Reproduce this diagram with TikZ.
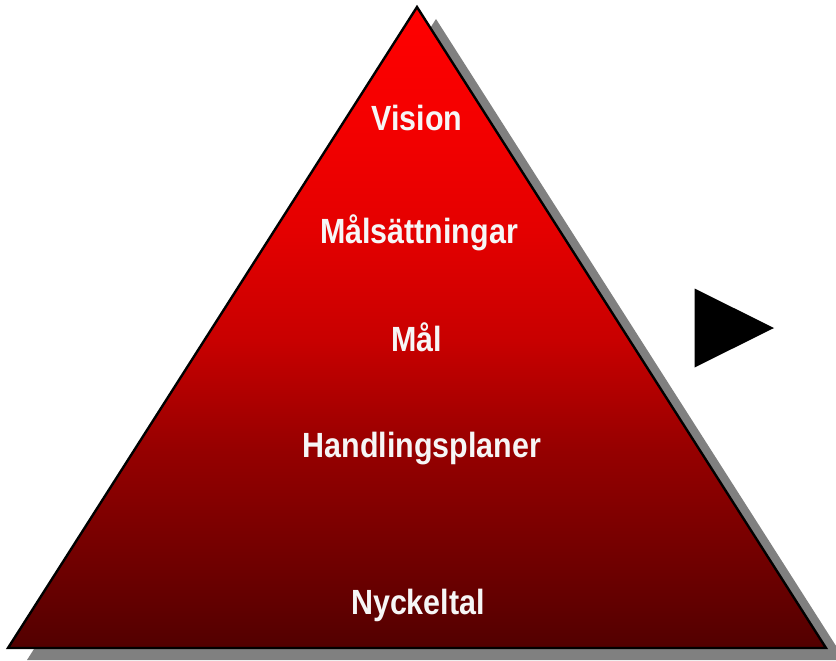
\documentclass[tikz,border=0pt]{standalone}
\usepackage{fontspec}
\setmainfont{Liberation Sans}[FakeStretch=0.87]
\usetikzlibrary{shadings}
\definecolor{pyrA}{RGB}{255,0,0}
\definecolor{pyrB}{RGB}{245,0,0}
\definecolor{pyrC}{RGB}{228,0,0}
\definecolor{pyrD}{RGB}{200,0,0}
\definecolor{pyrE}{RGB}{150,0,0}
\definecolor{pyrF}{RGB}{98,0,0}
\definecolor{pyrG}{RGB}{82,0,0}
\definecolor{labelwhite}{RGB}{246,246,246}
\definecolor{shadowgray}{RGB}{128,128,128}
\pgfdeclareverticalshading{pyrshade}{100bp}{color(0bp)=(pyrG); color(25bp)=(pyrG); color(28.5bp)=(pyrF); color(40.5bp)=(pyrE); color(49bp)=(pyrD); color(57.5bp)=(pyrC); color(66.5bp)=(pyrB); color(75bp)=(pyrA); color(100bp)=(pyrA)}
\tikzset{
  lvl/.style={anchor=base, text=labelwhite, font=\fontsize{35}{40}\selectfont\bfseries, inner sep=0pt},
  pyr/.style={draw=black, line width=2.4pt, line join=miter, shading=pyrshade},
  shadowtri/.style={fill=shadowgray, draw=none},
  arrowtri/.style={fill=black, draw=none}
}
\begin{document}
\begin{tikzpicture}[x=1pt, y=-1pt]
\useasboundingbox (0,0) rectangle (836,661);
\coordinate (apex) at (417,7);
\coordinate (bl) at (8,648);
\coordinate (br) at (826,648);
% shadow
\fill[shadowgray] ([shift={(19,12)}]apex) -- ([shift={(19,12)}]bl) -- ([shift={(19,12)}]br) -- cycle;
% pyramid
\path[pyr] (apex) -- (bl) -- (br) -- cycle;
% labels
\node[lvl] (vision) at (417,130) {Vision};
\node[lvl] (malsatt) at (419,243.3) {Målsättningar};
\node[lvl] (mal) at (416.5,351) {Mål};
\node[lvl] (handl) at (422,457.3) {Handlingsplaner};
\node[lvl] (nyck) at (418,614.3) {Nyckeltal};
% black pointer triangle
\coordinate (t1) at (694.5,288.5);
\coordinate (t2) at (694.5,367.5);
\coordinate (t3) at (774,328);
\fill[black] (t1) -- (t3) -- (t2) -- cycle;
\end{tikzpicture}
\end{document}
